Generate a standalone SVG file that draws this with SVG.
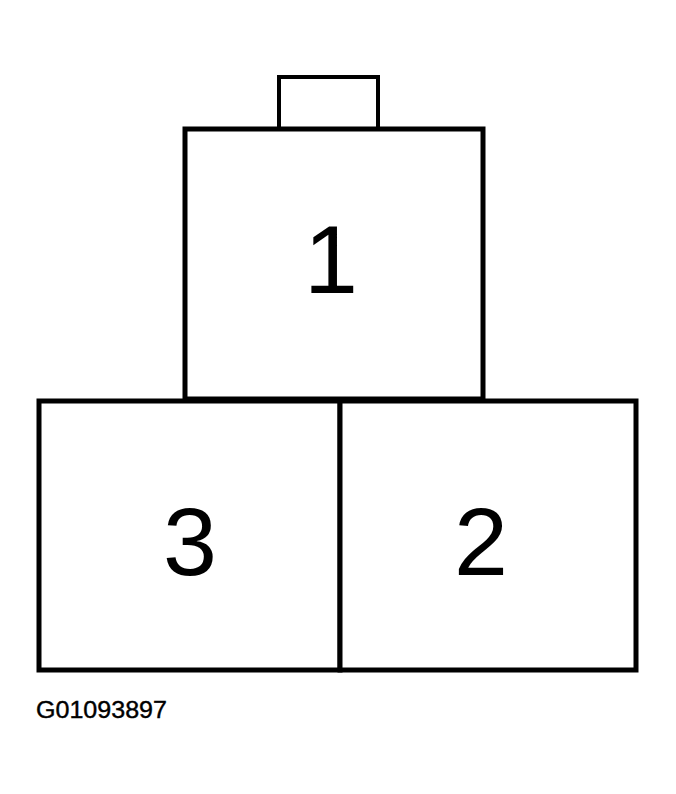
<svg xmlns="http://www.w3.org/2000/svg" width="676" height="794" viewBox="0 0 676 794">
<style>
.b{fill:#fff;stroke:#000;stroke-width:5}
.n{font-family:"Liberation Sans",Arial,sans-serif;font-size:97px;fill:#000;text-anchor:middle}
.l{font-family:"Liberation Sans",Arial,sans-serif;font-size:23px;fill:#000;stroke:#000;stroke-width:0.4}
</style>
<rect width="676" height="794" fill="#fff"/>
<g id="tab"><rect class="b" x="279" y="77" width="99" height="52" style="stroke-width:4"/></g>
<g id="pin1"><rect class="b" x="185" y="129" width="298" height="270"/><text class="n" x="331" y="293">1</text></g>
<g id="pin3"><rect class="b" x="39" y="401" width="301" height="269"/><text class="n" x="190" y="575">3</text></g>
<g id="pin2"><rect class="b" x="340" y="401" width="296" height="269"/><text class="n" x="481" y="575">2</text></g>
<g id="connectors"></g>
<text class="l" x="36" y="718" textLength="131" lengthAdjust="spacingAndGlyphs">G01093897</text>
</svg>
